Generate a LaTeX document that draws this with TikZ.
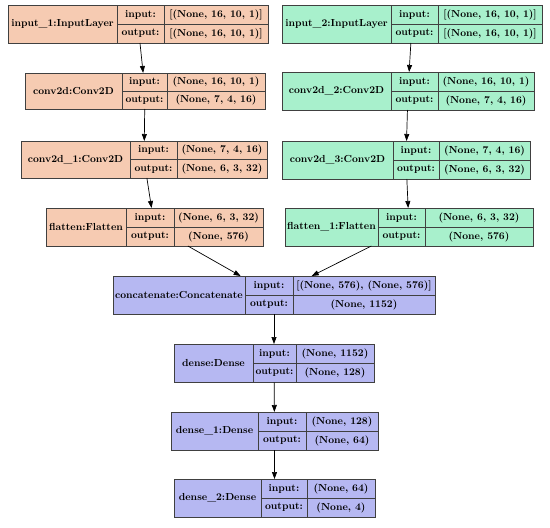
\documentclass[tikz,border=0pt]{standalone}
\usepackage{tikz}
\usetikzlibrary{arrows.meta}

\definecolor{peach}{RGB}{246,203,178}
\definecolor{mint}{RGB}{168,240,204}
\definecolor{lavender}{RGB}{182,184,242}

% one keras layer: name | input:/output: | shapes
\newcommand{\layerbox}[8]{%
  \node[layer, minimum width={#4-#2}, minimum height={#5-#3}, anchor=north west] (#1) at (#2,#3) {};
  \draw[cell] (#6,#3) -- (#6,#5);
  \draw[cell] (#7,#3) -- (#7,#5);
  \draw[cell] (#6,{(#3+#5)/2}) -- (#4,{(#3+#5)/2});
  \node[txt] (#1-name) at ({(#2+#6)/2},{(#3+#5)/2}) {#8};
  \node[txt] (#1-in) at ({(#6+#7)/2},{#3+(#5-#3)/4}) {input:};
  \node[txt] (#1-out) at ({(#6+#7)/2},{#5-(#5-#3)/4}) {output:};
  \node[txt] (#1-vin) at ({(#7+#4)/2},{#3+(#5-#3)/4}) {\vin};
  \node[txt] (#1-vout) at ({(#7+#4)/2},{#5-(#5-#3)/4}) {\vout};
}

\begin{document}
\begin{tikzpicture}[
x=1pt, y=-1pt,
layer/.style={draw=black!75, line width=0.7pt, inner sep=0pt, outer sep=0pt, fill=\col},
cell/.style={draw=black!75, line width=0.6pt},
txt/.style={font=\fontsize{10.2}{11}\selectfont\bfseries, inner sep=0pt},
arrow/.style={-{Triangle[length=7pt, width=5pt]}, line width=0.7pt},
]
\useasboundingbox (0,0) rectangle (550,528);

% both branches, then the dense head
\foreach \id/\xa/\ya/\xb/\yb/\da/\db/\name/\vin/\vout/\col in {
  in1/8/5/268/43/117/164/{input\_1:InputLayer}/{[(None, 16, 10, 1)]}/{[(None, 16, 10, 1)]}/peach,
  cv1/25/73/265/109/122/167/{conv2d:Conv2D}/{(None, 16, 10, 1)}/{(None, 7, 4, 16)}/peach,
  cv2/21/141/267/178/130/177/{conv2d\_1:Conv2D}/{(None, 7, 4, 16)}/{(None, 6, 3, 32)}/peach,
  fl1/46/208/263/246/126/174/{flatten:Flatten}/{(None, 6, 3, 32)}/{(None, 576)}/peach,
  in2/282/5/542/43/391/438/{input\_2:InputLayer}/{[(None, 16, 10, 1)]}/{[(None, 16, 10, 1)]}/mint,
  cv3/282/72/534/110/391/438/{conv2d\_2:Conv2D}/{(None, 16, 10, 1)}/{(None, 7, 4, 16)}/mint,
  cv4/282/141/530/179/393/439/{conv2d\_3:Conv2D}/{(None, 7, 4, 16)}/{(None, 6, 3, 32)}/mint,
  fl2/285/208/533/246/378/425/{flatten\_1:Flatten}/{(None, 6, 3, 32)}/{(None, 576)}/mint,
  cat/113/276/435/314/245/293/{concatenate:Concatenate}/{[(None, 576), (None, 576)]}/{(None, 1152)}/lavender,
  dn1/174/344/374/382/253/296/{dense:Dense}/{(None, 1152)}/{(None, 128)}/lavender,
  dn2/171/412/378/450/258/306/{dense\_1:Dense}/{(None, 128)}/{(None, 64)}/lavender,
  dn3/174/479/375/517/261/307/{dense\_2:Dense}/{(None, 64)}/{(None, 4)}/lavender}
  {\layerbox{\id}{\xa}{\ya}{\xb}{\yb}{\da}{\db}{\name}}

\draw[arrow] (in1) -- (cv1);
\draw[arrow] (cv1) -- (cv2);
\draw[arrow] (cv2) -- (fl1);
\draw[arrow] (fl1) -- (cat);

\draw[arrow] (in2) -- (cv3);
\draw[arrow] (cv3) -- (cv4);
\draw[arrow] (cv4) -- (fl2);
\draw[arrow] (fl2) -- (cat);

\draw[arrow] (cat) -- (dn1);
\draw[arrow] (dn1) -- (dn2);
\draw[arrow] (dn2) -- (dn3);

\end{tikzpicture}
\end{document}
